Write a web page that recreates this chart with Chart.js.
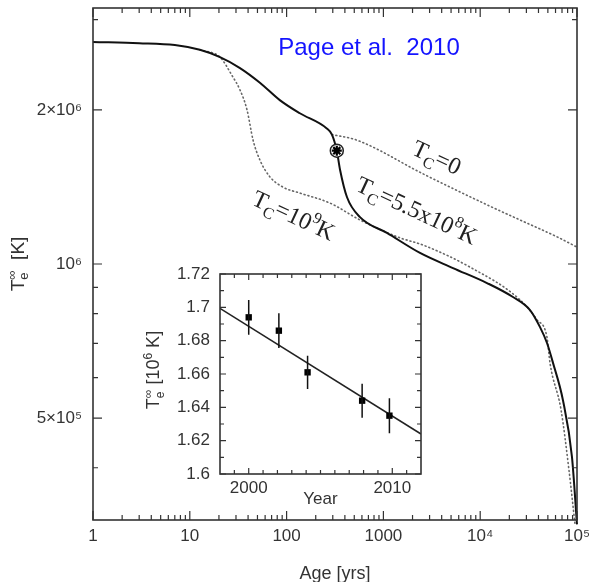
<!DOCTYPE html>
<html>
<head>
<meta charset="utf-8">
<script src="https://cdn.jsdelivr.net/npm/chart.js@4.4.1/dist/chart.umd.min.js"></script>
<style>
    html, body { margin: 0; padding: 0; background: #fff; }
    #wrap { position: relative; width: 595px; height: 582px; }
    #mainChart { position: absolute; left: 0; top: 0; }
    #insetChart { position: absolute; left: 130px; top: 260px; }
</style>
</head>
<body>
<div id="wrap">
    <canvas id="mainChart" width="595" height="582"></canvas>
    <canvas id="insetChart" width="300" height="250"></canvas>
</div>
<script>
// cooling curves, age [yrs] vs T_e^inf [K]
const ageSolid = [1, 3, 7, 12.7, 20.5, 33, 53, 85, 137, 260, 294, 330, 356, 421, 573, 1089, 2388, 5236, 11750, 21800, 32700, 41500, 49000, 56500, 71600, 88700, 100000];
const tempSolid = [2.714e6, 2.70e6, 2.677e6, 2.62e6, 2.535e6, 2.414e6, 2.26e6, 2.09e6, 1.97e6, 1.84e6, 1.79e6, 1.665e6, 1.53e6, 1.35e6, 1.235e6, 1.15e6, 1.051e6, 9.82e5, 9.18e5, 8.62e5, 8.13e5, 7.53e5, 7.01e5, 6.41e5, 5.42e5, 4.2e5, 3.1e5];

const ageTc9 = [12.7, 20.5, 27.9, 33, 39, 45, 53, 67.4, 91.8, 137, 281, 573, 1484, 2566, 7850, 25800, 38600, 49000, 52600, 68400, 82600, 95400];
const tempTc9 = [2.62e6, 2.535e6, 2.318e6, 2.188e6, 2.0e6, 1.747e6, 1.596e6, 1.479e6, 1.413e6, 1.376e6, 1.315e6, 1.219e6, 1.125e6, 1.089e6, 9.86e5, 8.51e5, 7.78e5, 7.19e5, 6.41e5, 5.19e5, 3.96e5, 3.1e5];

const ageTc0 = [294, 534, 2566, 12600, 25800, 62100, 100000];
const tempTc0 = [1.79e6, 1.745e6, 1.50e6, 1.297e6, 1.219e6, 1.13e6, 1.079e6];

const casAAge = [330];
const casATemp = [1.665e6];

const xTickValues = [1, 10, 100, 1000, 1e4, 1e5];
const xTickLabels = ['1', '10', '100', '1000', '10⁴', '10⁵'];
const yTickValues = [5e5, 1e6, 2e6];
const yTickLabels = ['5×10⁵', '10⁶', '2×10⁶'];

// inset: Cas A measurements
const obsYear = [2000.0, 2002.1, 2004.1, 2007.9, 2009.8];
const obsTemp = [1.694, 1.686, 1.661, 1.644, 1.635];
const obsErr = [0.0104, 0.0104, 0.0100, 0.0102, 0.0105];
const fitYear = [1998, 2012];
const fitTemp = [1.6994, 1.624];
const insetYTicks = [1.6, 1.62, 1.64, 1.66, 1.68, 1.7, 1.72];
const insetXTicks = [2000, 2010];

const INK = '#333';
const SANS = '"Liberation Sans", Arial, sans-serif';
const SERIF = '"Liberation Serif", "Times New Roman", serif';

function toPts(xs, ys) {
    return xs.map((x, i) => ({ x: x, y: ys[i] }));
}

// text with sub/superscripts; parts: {t}, {t, sub}, {t, sup}, {sub, sup} (stacked)
function drawRich(ctx, parts, size, family, color) {
    const small = Math.round(size * 0.68);
    const widths = parts.map(p => {
        if (p.t !== undefined && !p.sub && !p.sup) {
            ctx.font = size + 'px ' + family;
            return ctx.measureText(p.t).width;
        }
        ctx.font = small + 'px ' + family;
        if (p.t !== undefined) return ctx.measureText(p.t).width;
        return Math.max(ctx.measureText(p.sub).width, ctx.measureText(p.sup).width);
    });
    const total = widths.reduce((a, b) => a + b, 0);
    let x = -total / 2;
    const base = size * 0.35;
    ctx.fillStyle = color;
    ctx.textBaseline = 'alphabetic';
    ctx.textAlign = 'left';
    parts.forEach((p, i) => {
        if (p.t !== undefined && !p.sub && !p.sup) {
            ctx.font = size + 'px ' + family;
            ctx.fillText(p.t, x, base);
        } else {
            ctx.font = small + 'px ' + family;
            if (p.t !== undefined) {
                ctx.fillText(p.t, x, base + (p.sub ? size * 0.25 : -size * 0.42));
            } else {
                ctx.fillText(p.sub, x, base + size * 0.25);
                ctx.fillText(p.sup, x, base - size * 0.42);
            }
        }
        x += widths[i];
    });
}

// inward ticks on all four sides plus the frame
function frameTicksPlugin(id) {
    return {
        id: id,
        afterDatasetsDraw(chart, args, opts) {
            const { ctx, chartArea: a } = chart;
            const sx = chart.scales.x, sy = chart.scales.y;
            ctx.save();
            ctx.strokeStyle = INK;
            ctx.lineWidth = 1.2;
            ctx.beginPath();
            const tickX = (v, len) => {
                const p = sx.getPixelForValue(v);
                ctx.moveTo(p, a.bottom); ctx.lineTo(p, a.bottom - len);
                ctx.moveTo(p, a.top); ctx.lineTo(p, a.top + len);
            };
            const tickY = (v, len) => {
                const p = sy.getPixelForValue(v);
                ctx.moveTo(a.left, p); ctx.lineTo(a.left + len, p);
                ctx.moveTo(a.right, p); ctx.lineTo(a.right - len, p);
            };
            opts.xMajor.forEach(v => tickX(v, opts.major));
            opts.xMinor.forEach(v => tickX(v, opts.minor));
            opts.yMajor.forEach(v => tickY(v, opts.major));
            opts.yMinor.forEach(v => tickY(v, opts.minor));
            ctx.stroke();
            ctx.lineWidth = 1.6;
            ctx.strokeRect(a.left, a.top, a.right - a.left, a.bottom - a.top);
            ctx.restore();
        }
    };
}

// minor tick positions on the log axes
const xMinor = [];
for (let d = 1; d < 1e5; d *= 10) {
    for (let k = 2; k <= 9; k++) xMinor.push(d * k);
}
const yMinor = [3e6, 4e5, 6e5, 7e5, 8e5, 9e5];

const mainLabels = {
    id: 'mainLabels',
    afterDraw(chart) {
        const { ctx, chartArea: a } = chart;
        const sx = chart.scales.x, sy = chart.scales.y;
        const at = (age, temp, rot, parts, size, fam, col) => {
            ctx.save();
            ctx.translate(sx.getPixelForValue(age), sy.getPixelForValue(temp));
            ctx.rotate(rot * Math.PI / 180);
            drawRich(ctx, parts, size, fam, col);
            ctx.restore();
        };
        at(3580, 1.618e6, 25, [{ t: 'T' }, { t: 'C', sub: 1 }, { t: '=0' }], 24, SERIF, '#222');
        at(2224, 1.275e6, 25, [{ t: 'T' }, { t: 'C', sub: 1 }, { t: '=5.5x10' }, { t: '8', sup: 1 }, { t: 'K' }], 24, SERIF, '#222');
        at(119, 1.247e6, 25, [{ t: 'T' }, { t: 'C', sub: 1 }, { t: '=10' }, { t: '9', sup: 1 }, { t: 'K' }], 24, SERIF, '#222');
        at(710, 2.66e6, 0, [{ t: 'Page et al.  2010' }], 24, SANS, '#1414ff');

        // y-axis title
        ctx.save();
        ctx.translate(17, (a.top + a.bottom) / 2);
        ctx.rotate(-Math.PI / 2);
        drawRich(ctx, [{ t: 'T' }, { sub: 'e', sup: '∞' }, { t: '  [K]' }], 19, SANS, INK);
        ctx.restore();
    }
};

new Chart(document.getElementById('mainChart').getContext('2d'), {
    type: 'line',
    data: {
        datasets: [
            {
                label: 'Cas A',
                data: toPts(casAAge, casATemp),
                showLine: false,
                pointStyle: 'star',
                pointRadius: 5,
                pointBorderWidth: 2.2,
                pointBorderColor: '#000'
            },
            {
                label: 'Cas A ring',
                data: toPts(casAAge, casATemp),
                showLine: false,
                pointStyle: 'circle',
                pointRadius: 6.5,
                pointBorderWidth: 1.5,
                pointBorderColor: '#222',
                pointBackgroundColor: '#fff'
            },
            {
                label: 'Tc = 5.5e8 K',
                data: toPts(ageSolid, tempSolid),
                borderColor: '#111',
                borderWidth: 2,
                pointRadius: 0,
                cubicInterpolationMode: 'monotone'
            },
            {
                label: 'Tc = 1e9 K',
                data: toPts(ageTc9, tempTc9),
                borderColor: '#666',
                borderWidth: 1.6,
                borderDash: [1, 3],
                borderCapStyle: 'round',
                pointRadius: 0,
                cubicInterpolationMode: 'monotone'
            },
            {
                label: 'Tc = 0',
                data: toPts(ageTc0, tempTc0),
                borderColor: '#666',
                borderWidth: 1.6,
                borderDash: [1, 3],
                borderCapStyle: 'round',
                pointRadius: 0,
                cubicInterpolationMode: 'monotone'
            }
        ]
    },
    options: {
        responsive: false,
        animation: false,
        clip: false,
        layout: { padding: { top: 8, right: 18, left: 0, bottom: 0 } },
        plugins: {
            legend: { display: false },
            tooltip: { enabled: false },
            frameTicks: { xMajor: xTickValues, xMinor: xMinor, yMajor: yTickValues, yMinor: yMinor, major: 9, minor: 5 }
        },
        scales: {
            x: {
                type: 'logarithmic',
                min: 1,
                max: 1e5,
                grid: { display: false, drawTicks: false },
                border: { display: false },
                afterBuildTicks: s => { s.ticks = xTickValues.map(v => ({ value: v })); },
                afterFit: s => { s.height = 62; s.paddingLeft = 0; s.paddingRight = 0; },
                ticks: {
                    color: INK,
                    padding: 6,
                    maxRotation: 0,
                    font: { family: SANS, size: 17 },
                    callback: v => xTickLabels[xTickValues.indexOf(v)]
                },
                title: {
                    display: true,
                    text: 'Age [yrs]',
                    color: INK,
                    font: { family: SANS, size: 18 },
                    padding: { top: 0, bottom: -3 }
                }
            },
            y: {
                type: 'logarithmic',
                min: Math.pow(10, 5.5),
                max: Math.pow(10, 6.5),
                grid: { display: false, drawTicks: false },
                border: { display: false },
                afterBuildTicks: s => { s.ticks = yTickValues.map(v => ({ value: v })); },
                afterFit: s => { s.width = 93; s.paddingTop = 0; s.paddingBottom = 0; },
                ticks: {
                    color: INK,
                    padding: 11,
                    font: { family: SANS, size: 17 },
                    callback: v => yTickLabels[yTickValues.indexOf(v)]
                }
            }
        }
    },
    plugins: [frameTicksPlugin('frameTicks'), mainLabels]
});

// inset chart
const insetXMinor = [];
for (let yr = 1999; yr <= 2011; yr++) if (insetXTicks.indexOf(yr) < 0) insetXMinor.push(yr);
const insetYMinor = [1.61, 1.63, 1.65, 1.67, 1.69, 1.71];

const insetExtras = {
    id: 'insetExtras',
    afterDatasetsDraw(chart) {
        const { ctx } = chart;
        const sx = chart.scales.x, sy = chart.scales.y;
        ctx.save();
        ctx.strokeStyle = '#111';
        ctx.lineWidth = 1.5;
        ctx.beginPath();
        obsYear.forEach((yr, i) => {
            const px = sx.getPixelForValue(yr);
            ctx.moveTo(px, sy.getPixelForValue(obsTemp[i] - obsErr[i]));
            ctx.lineTo(px, sy.getPixelForValue(obsTemp[i] + obsErr[i]));
        });
        ctx.stroke();
        ctx.restore();
    },
    afterDraw(chart) {
        const { ctx, chartArea: a } = chart;
        ctx.save();
        ctx.translate(a.left - 67, (a.top + a.bottom) / 2 - 4);
        ctx.rotate(-Math.PI / 2);
        drawRich(ctx, [{ t: 'T' }, { sub: 'e', sup: '∞' }, { t: ' [10' }, { t: '6', sup: 1 }, { t: ' K]' }], 18, SANS, INK);
        ctx.restore();
    }
};

new Chart(document.getElementById('insetChart').getContext('2d'), {
    type: 'line',
    data: {
        datasets: [
            {
                label: 'data',
                data: toPts(obsYear, obsTemp),
                showLine: false,
                pointStyle: 'rect',
                pointRadius: 4.5,
                pointBackgroundColor: '#000',
                pointBorderWidth: 0
            },
            {
                label: 'fit',
                data: toPts(fitYear, fitTemp),
                borderColor: '#222',
                borderWidth: 1.5,
                pointRadius: 0
            }
        ]
    },
    options: {
        responsive: false,
        animation: false,
        layout: { padding: { top: 14, right: 9, left: 0, bottom: 0 } },
        plugins: {
            legend: { display: false },
            tooltip: { enabled: false },
            insetTicks: { xMajor: insetXTicks, xMinor: insetXMinor, yMajor: insetYTicks, yMinor: insetYMinor, major: 6, minor: 4 }
        },
        scales: {
            x: {
                type: 'linear',
                min: 1998,
                max: 2012,
                grid: { display: false, drawTicks: false },
                border: { display: false },
                afterBuildTicks: s => { s.ticks = insetXTicks.map(v => ({ value: v })); },
                afterFit: s => { s.height = 36; s.paddingLeft = 0; s.paddingRight = 0; },
                ticks: {
                    color: INK,
                    padding: 4,
                    maxRotation: 0,
                    font: { family: SANS, size: 17 },
                    callback: v => String(v)
                },
                title: {
                    display: true,
                    text: 'Year',
                    color: INK,
                    font: { family: SANS, size: 17 },
                    padding: { top: 0, bottom: 0 }
                }
            },
            y: {
                type: 'linear',
                min: 1.6,
                max: 1.72,
                grid: { display: false, drawTicks: false },
                border: { display: false },
                afterBuildTicks: s => { s.ticks = insetYTicks.map(v => ({ value: v })); },
                afterFit: s => { s.width = 90; s.paddingTop = 0; s.paddingBottom = 0; },
                ticks: {
                    color: INK,
                    padding: 10,
                    font: { family: SANS, size: 17 },
                    callback: v => String(+v.toFixed(2))
                }
            }
        }
    },
    plugins: [frameTicksPlugin('insetTicks'), insetExtras]
});
</script>
</body>
</html>
